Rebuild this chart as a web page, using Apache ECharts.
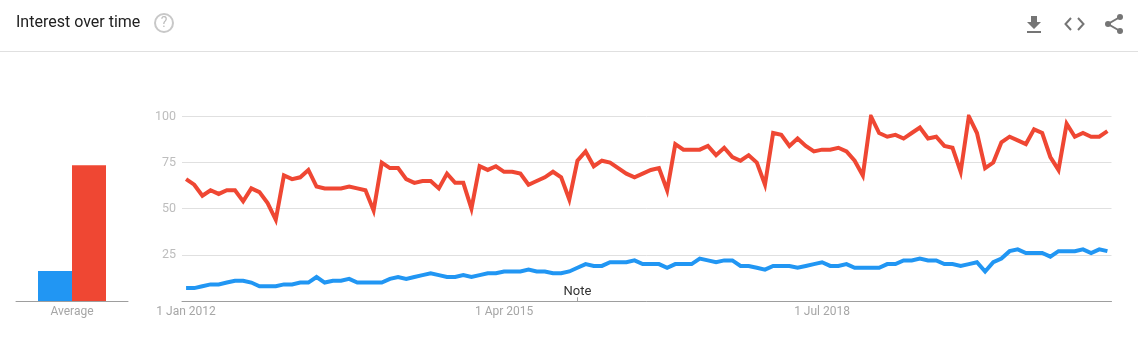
<!DOCTYPE html>
<html><head><meta charset="utf-8">
<style>html,body{margin:0;padding:0;background:#fff}#c{width:1138px;height:359px}</style>
<script src="https://cdn.jsdelivr.net/npm/echarts@6/dist/echarts.min.js"></script>
</head><body><div id="c"></div>
<script>
const firstYear = 2012;
const monthNames = ['Jan','Feb','Mar','Apr','May','Jun','Jul','Aug','Sep','Oct','Nov','Dec'];
const redValues = [66,63,57,60,58,60,60,54,61,59,53,44,68,66,67,71,62,61,61,61,62,61,60,49,75,72,72,66,64,65,65,61,69,64,64,50,73,71,73,70,70,69,63,65,67,70,67,55,76,81,73,76,75,72,69,67,69,71,72,60,85,82,82,82,84,79,83,78,76,79,75,63,91,90,84,88,84,81,82,82,83,81,76,68,100,91,89,90,88,91,94,88,89,84,83,70,100,91,72,75,86,89,87,85,93,91,78,71,96,89,91,89,89,92];
const blueValues = [7,7,8,9,9,10,11,11,10,8,8,8,9,9,10,10,13,10,11,11,12,10,10,10,10,12,13,12,13,14,15,14,13,13,14,13,14,15,15,16,16,16,17,16,16,15,15,16,18,20,19,19,21,21,21,22,20,20,20,18,20,20,20,23,22,21,22,22,19,19,18,17,19,19,19,18,19,20,21,19,19,20,18,18,18,18,20,20,22,22,23,22,22,20,20,19,20,21,16,21,23,27,28,26,26,26,24,27,27,27,28,26,28,27];
const averages = {blue: 16.2, red: 73.6};
const monthLabels = redValues.map((_, i) => '1 ' + monthNames[i % 12] + ' ' + (firstYear + Math.floor(i / 12)));
const shownLabels = ['1 Jan 2012', '1 Apr 2015', '1 Jul 2018'];
const noteDate = '1 Jan 2016';
const noteText = 'Note';
const BLUE = '#2196f3', RED = '#ef4733';
const FONT = 'Roboto';
const ICON = '#757575';

const chart = echarts.init(document.getElementById('c'), null, {renderer: 'canvas'});
const poly = points => ({type: 'polygon', shape: {points}, style: {fill: ICON}, silent: true});
const stroke = points => ({type: 'polyline', shape: {points}, style: {fill: 'none', stroke: ICON, lineWidth: 2}, silent: true});
const dot = (cx, cy) => ({type: 'circle', shape: {cx, cy, r: 3}, style: {fill: ICON}, silent: true});
chart.setOption({
  animation: false,
  backgroundColor: '#fff',
  textStyle: {fontFamily: FONT},
  grid: [
    {left: 182, top: 116.4, width: 929.5, height: 184.6},
    {left: 16, top: 116.4, width: 112, height: 184.6}
  ],
  xAxis: [
    {type: 'category', gridIndex: 0, data: monthLabels, boundaryGap: true,
     axisLine: {lineStyle: {color: '#9e9e9e', width: 1}}, axisTick: {show: false},
     axisLabel: {color: '#a6a6a6', fontSize: 12, margin: 5, fontFamily: FONT, hideOverlap: false,
       interval: (i, v) => shownLabels.includes(v)}},
    {type: 'category', gridIndex: 1, data: ['Average'],
     axisLine: {lineStyle: {color: '#9e9e9e', width: 1}}, axisTick: {show: false},
     axisLabel: {color: '#a6a6a6', fontSize: 12, margin: 5, fontFamily: FONT}}
  ],
  yAxis: [
    {type: 'value', gridIndex: 0, min: 0, max: 100, interval: 25,
     axisLine: {show: false}, axisTick: {show: false},
     splitLine: {lineStyle: {color: '#e0e0e0', width: 1}},
     axisLabel: {color: '#bdbdbd', fontSize: 12.5, margin: 6, fontFamily: FONT, padding: [2, 0, 0, 0],
       formatter: v => v === 0 ? '' : String(v)}},
    {type: 'value', gridIndex: 1, min: 0, max: 100, show: false}
  ],
  series: [
    {type: 'line', name: 'blue', xAxisIndex: 0, yAxisIndex: 0, data: blueValues, showSymbol: false, symbol: 'none',
     lineStyle: {color: BLUE, width: 4, cap: 'butt', join: 'miter'}, z: 3,
     markLine: {silent: true, symbol: 'none', animation: false,
       lineStyle: {color: '#9e9e9e', width: 1, type: 'solid'},
       label: {show: true, position: 'end', formatter: noteText, color: '#333', fontSize: 13, fontFamily: FONT, distance: 0, offset: [0, 1]},
       data: [[{coord: [noteDate, 0]}, {coord: [noteDate, 2]}]]}},
    {type: 'line', name: 'red', xAxisIndex: 0, yAxisIndex: 0, data: redValues, showSymbol: false, symbol: 'none',
     lineStyle: {color: RED, width: 4, cap: 'butt', join: 'miter'}, z: 4},
    {type: 'bar', name: 'blue', xAxisIndex: 1, yAxisIndex: 1, data: [averages.blue], barWidth: 34, barGap: 0, itemStyle: {color: BLUE}},
    {type: 'bar', name: 'red', xAxisIndex: 1, yAxisIndex: 1, data: [averages.red], barWidth: 34, barGap: 0, itemStyle: {color: RED}}
  ],
  graphic: [
    {type: 'text', x: 16, y: 15, style: {text: 'Interest over time', fill: '#212121', fontSize: 16, fontFamily: FONT, textVerticalAlign: 'top'}, silent: true},
    {type: 'circle', shape: {cx: 164, cy: 23, r: 9}, style: {fill: 'none', stroke: '#c8c8c8', lineWidth: 2}, silent: true},
    {type: 'text', x: 164, y: 23, style: {text: '?', fill: '#bdbdbd', fontSize: 14, fontFamily: FONT, textAlign: 'center', textVerticalAlign: 'middle'}, silent: true},
    {type: 'rect', shape: {x: 0, y: 51, width: 1138, height: 1}, style: {fill: '#e0e0e0'}, silent: true},
    poly([[1031, 16], [1037, 16], [1037, 22], [1041, 22], [1034, 29], [1027, 22], [1031, 22]]),
    {type: 'rect', shape: {x: 1027, y: 31, width: 14, height: 2}, style: {fill: ICON}, silent: true},
    stroke([[1071, 18], [1065.5, 24], [1071, 30]]),
    stroke([[1078, 18], [1083.5, 24], [1078, 30]]),
    stroke([[1120, 17], [1108, 24], [1120, 31]]),
    dot(1120, 17), dot(1108, 24), dot(1120, 31)
  ]
});
</script></body></html>
